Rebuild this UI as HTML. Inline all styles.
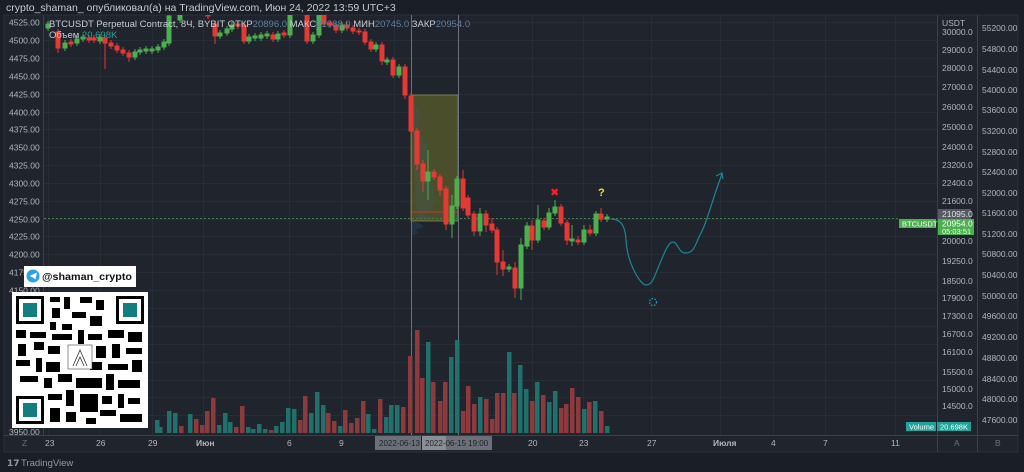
<!DOCTYPE html>
<html><head><meta charset="utf-8"><style>
html,body{margin:0;padding:0;background:#1a1e26;width:1024px;height:472px;overflow:hidden}
svg{display:block}
text{font-family:"Liberation Sans","DejaVu Sans",sans-serif}
</style></head><body>
<svg width="1024" height="472" viewBox="0 0 1024 472" xmlns="http://www.w3.org/2000/svg">
<rect width="1024" height="472" fill="#1a1e26"/>
<text x="6" y="11" font-size="10.5" fill="#c8cbd2">crypto_shaman_ опубликовал(а) на TradingView.com, Июн 24, 2022 13:59 UTC+3</text>
<rect x="4" y="15" width="1014" height="437" fill="#1f242d" stroke="#2c313b"/>
<g stroke="#272d37" stroke-width="1">
<path d="M43 22.5H937M43 40.5H937M43 58.5H937M43 76.5H937M43 94.5H937M43 112.5H937M43 129.5H937M43 147.5H937M43 165.5H937M43 183.5H937M43 201.5H937M43 219.5H937M43 236.5H937M43 254.5H937M43 272.5H937M43 290.5H937M43 308.5H937M43 326.5H937M43 344.5H937M43 362.5H937M43 380.5H937M43 397.5H937M43 415.5H937"/>
<path d="M48.5 15V435M100.5 15V435M152.5 15V435M203.5 15V435M289.5 15V435M341.5 15V435M394.5 15V435M532.5 15V435M583.5 15V435M651.5 15V435M720.5 15V435M773.5 15V435M825.5 15V435M895.5 15V435"/>
</g>
<line x1="43.5" y1="15" x2="43.5" y2="435" stroke="#3a404b"/>
<line x1="937.5" y1="15" x2="937.5" y2="452" stroke="#3a404b"/>
<line x1="977.5" y1="15" x2="977.5" y2="452" stroke="#3a404b"/>
<line x1="4" y1="435.5" x2="1018" y2="435.5" stroke="#3a404b"/>
<g font-size="8.5" fill="#b2b5be">
<text x="9" y="25.5">4525.00</text><text x="9" y="43.5">4500.00</text><text x="9" y="61.5">4475.00</text><text x="9" y="79.5">4450.00</text><text x="9" y="97.5">4425.00</text><text x="9" y="115.5">4400.00</text><text x="9" y="132.5">4375.00</text><text x="9" y="150.5">4350.00</text><text x="9" y="168.5">4325.00</text><text x="9" y="186.5">4300.00</text><text x="9" y="204.5">4275.00</text><text x="9" y="222.5">4250.00</text><text x="9" y="239.5">4225.00</text><text x="9" y="257.5">4200.00</text><text x="9" y="275.5">4175.00</text><text x="9" y="293.5">4150.00</text><text x="9" y="435">3950.00</text>
</g>
<g clip-path="url(#cp)">
<defs><clipPath id="cp"><rect x="44" y="15" width="893" height="420"/></clipPath></defs>
<rect x="411" y="95" width="47" height="126" fill="#5b5c2a" fill-opacity="0.75" stroke="#8a8a4a" stroke-width="0.8"/>
<path d="M411 100 q14 10 6 30 q18 20 4 40 q24 20 6 45 q16 5 -10 5z" fill="#3a6070" opacity="0.25"/>
<path d="M411 221 q22 5 4 9 q8 3 -4 6z" fill="#2a5070" opacity="0.35"/>
<line x1="411" y1="212" x2="458" y2="212" stroke="#c0392b"/>
<line x1="411.5" y1="15" x2="411.5" y2="435" stroke="#6b707a"/>
<line x1="458.5" y1="15" x2="458.5" y2="435" stroke="#6b707a"/>
<line x1="44" y1="218.5" x2="900" y2="218.5" stroke="#3f7d4a" stroke-dasharray="2 2"/>
<g fill="#8b3b3d">
<rect x="408" y="356" width="4.5" height="77"/><rect x="415" y="330" width="4.5" height="103"/><rect x="420" y="378" width="4.5" height="55"/><rect x="431" y="382" width="4.5" height="51"/><rect x="438" y="401" width="4.5" height="32"/><rect x="443" y="382" width="4.5" height="51"/><rect x="461" y="411" width="4.5" height="22"/><rect x="466" y="386" width="4.5" height="47"/><rect x="472" y="404" width="4.5" height="29"/><rect x="484" y="399" width="4.5" height="34"/><rect x="490" y="419" width="4.5" height="14"/><rect x="495" y="393" width="4.5" height="40"/><rect x="501" y="393" width="4.5" height="40"/><rect x="512" y="393" width="4.5" height="40"/><rect x="530" y="401" width="4.5" height="32"/><rect x="541" y="395" width="4.5" height="38"/><rect x="559" y="408" width="4.5" height="25"/><rect x="564" y="404" width="4.5" height="29"/><rect x="570" y="388" width="4.5" height="45"/><rect x="576" y="397" width="4.5" height="36"/><rect x="587" y="402" width="4.5" height="31"/><rect x="599" y="411" width="4.5" height="22"/>
<rect x="179" y="426" width="4.5" height="7"/><rect x="194" y="419" width="4.5" height="14"/><rect x="200" y="425" width="4.5" height="8"/><rect x="205" y="411" width="4.5" height="22"/><rect x="211" y="398" width="4.5" height="35"/><rect x="234" y="427" width="4.5" height="6"/><rect x="240" y="406" width="4.5" height="27"/><rect x="269" y="430" width="4.5" height="3"/><rect x="298" y="420" width="4.5" height="13"/><rect x="303" y="396" width="4.5" height="37"/><rect x="326" y="413" width="4.5" height="20"/><rect x="332" y="421" width="4.5" height="12"/><rect x="343" y="410" width="4.5" height="23"/><rect x="349" y="423" width="4.5" height="10"/><rect x="355" y="418" width="4.5" height="15"/><rect x="361" y="401" width="4.5" height="32"/><rect x="378" y="399" width="4.5" height="34"/><rect x="401" y="407" width="4.5" height="26"/>
</g>
<g fill="#22706b">
<rect x="426" y="342" width="4.5" height="91"/><rect x="449" y="357" width="4.5" height="76"/><rect x="455" y="340" width="4.5" height="93"/><rect x="478" y="397" width="4.5" height="36"/><rect x="507" y="352" width="4.5" height="81"/><rect x="518" y="365" width="4.5" height="68"/><rect x="524" y="389" width="4.5" height="44"/><rect x="535" y="382" width="4.5" height="51"/><rect x="547" y="402" width="4.5" height="31"/><rect x="553" y="391" width="4.5" height="42"/><rect x="582" y="409" width="4.5" height="24"/><rect x="593" y="401" width="4.5" height="32"/><rect x="605" y="426" width="4.5" height="7"/>
<rect x="155" y="420" width="4.5" height="13"/><rect x="158" y="427" width="4.5" height="6"/><rect x="167" y="411" width="4.5" height="22"/><rect x="173" y="413" width="4.5" height="20"/><rect x="188" y="414" width="4.5" height="19"/><rect x="217" y="425" width="4.5" height="8"/><rect x="223" y="413" width="4.5" height="20"/><rect x="228" y="422" width="4.5" height="11"/><rect x="246" y="427" width="4.5" height="6"/><rect x="251" y="429" width="4.5" height="4"/><rect x="257" y="424" width="4.5" height="9"/><rect x="263" y="429" width="4.5" height="4"/><rect x="274" y="426" width="4.5" height="7"/><rect x="280" y="422" width="4.5" height="11"/><rect x="286" y="408" width="4.5" height="25"/><rect x="292" y="409" width="4.5" height="24"/><rect x="309" y="413" width="4.5" height="20"/><rect x="315" y="392" width="4.5" height="41"/><rect x="321" y="405" width="4.5" height="28"/><rect x="338" y="426" width="4.5" height="7"/><rect x="366" y="414" width="4.5" height="19"/><rect x="372" y="429" width="4.5" height="4"/><rect x="384" y="417" width="4.5" height="16"/><rect x="389" y="405" width="4.5" height="28"/><rect x="395" y="405" width="4.5" height="28"/>
</g>
<g stroke="#4caf50" fill="#4caf50">
<path d="M48 21V31M65 40V51M77 36V46M83 34V42M100 34V44M135 49V60M140 47V55M146 46V54M152 46V54M158 44V53M164 39V50M169 13V46M180 2V23M220 30V39M227 26V36M232 22V32M249 34V44M255 33V41M261 32V41M267 31V39M278 31V42M290 12V38M313 32V44M319 12V38M342 22V33M376 42V52M387 57V65M399 64V78M428 150V200M452 195V238M457 176V209M480 208V236M509 264V272M521 238V300M527 222V249M538 205V243M549 208V230M555 200V216M572 225V246M584 225V245M596 211V236M607 214V222" fill="none" stroke-width="1"/>
<rect x="46" y="24" width="4" height="4"/><rect x="63" y="43" width="4" height="5"/><rect x="75" y="39" width="4" height="4"/><rect x="81" y="37" width="4" height="2"/><rect x="98" y="37" width="4" height="4"/><rect x="133" y="52" width="4" height="5"/><rect x="138" y="50" width="4" height="2"/><rect x="144" y="49" width="4" height="2"/><rect x="150" y="49" width="4" height="2"/><rect x="156" y="47" width="4" height="3"/><rect x="162" y="42" width="4" height="5"/><rect x="167" y="16" width="4" height="27"/><rect x="178" y="5" width="4" height="15"/><rect x="218" y="33" width="4" height="3"/><rect x="225" y="29" width="4" height="4"/><rect x="230" y="25" width="4" height="4"/><rect x="247" y="37" width="4" height="4"/><rect x="253" y="36" width="4" height="2"/><rect x="259" y="35" width="4" height="3"/><rect x="265" y="34" width="4" height="2"/><rect x="276" y="34" width="4" height="5"/><rect x="288" y="15" width="4" height="20"/><rect x="311" y="35" width="4" height="6"/><rect x="317" y="15" width="4" height="20"/><rect x="340" y="25" width="4" height="5"/><rect x="374" y="45" width="4" height="4"/><rect x="385" y="60" width="4" height="2"/><rect x="397" y="67" width="4" height="8"/><rect x="426" y="172" width="4" height="9"/><rect x="450" y="206" width="4" height="18"/><rect x="455" y="179" width="4" height="27"/><rect x="478" y="214" width="4" height="17"/><rect x="507" y="267" width="4" height="2"/><rect x="519" y="245" width="4" height="43"/><rect x="525" y="226" width="4" height="20"/><rect x="536" y="220" width="4" height="20"/><rect x="547" y="213" width="4" height="14"/><rect x="553" y="207" width="4" height="6"/><rect x="570" y="239" width="4" height="2"/><rect x="582" y="230" width="4" height="12"/><rect x="594" y="214" width="4" height="19"/><rect x="605" y="217" width="4" height="2"/>
</g>
<g stroke="#e53935" fill="#e53935">
<path d="M58 29V53M71 39V47M89 35V43M94 35V43M105 35V69M111 40V49M117 43V53M123 47V56M129 50V62M208 7V19M215 21V44M238 21V29M244 22V44M273 32V42M284 30V38M307 12V44M324 12V27M330 20V28M336 22V33M347 22V31M353 25V34M359 28V35M365 29V45M371 39V52M382 42V65M393 57V78M405 64V99M411 93V134M417 128V170M423 160V192M434 169V180M440 174V196M446 186V230M463 170V211M468 195V218M474 211V236M486 210V232M492 218V233M497 227V275M503 250V276M515 262V298M532 220V250M544 218V230M561 204V226M567 220V245M578 236V245M590 225V236M601 208V222" fill="none" stroke-width="1"/>
<rect x="56" y="32" width="4" height="16"/><rect x="69" y="42" width="4" height="2"/><rect x="87" y="38" width="4" height="2"/><rect x="92" y="38" width="4" height="2"/><rect x="103" y="38" width="4" height="5"/><rect x="109" y="43" width="4" height="3"/><rect x="115" y="46" width="4" height="4"/><rect x="121" y="50" width="4" height="3"/><rect x="127" y="53" width="4" height="4"/><rect x="206" y="10" width="4" height="6"/><rect x="213" y="24" width="4" height="12"/><rect x="236" y="24" width="4" height="2"/><rect x="242" y="25" width="4" height="16"/><rect x="271" y="35" width="4" height="4"/><rect x="282" y="33" width="4" height="2"/><rect x="305" y="15" width="4" height="26"/><rect x="322" y="15" width="4" height="9"/><rect x="328" y="23" width="4" height="2"/><rect x="334" y="25" width="4" height="5"/><rect x="345" y="25" width="4" height="3"/><rect x="351" y="28" width="4" height="3"/><rect x="357" y="31" width="4" height="1"/><rect x="363" y="32" width="4" height="10"/><rect x="369" y="42" width="4" height="7"/><rect x="380" y="45" width="4" height="16"/><rect x="391" y="60" width="4" height="15"/><rect x="403" y="67" width="4" height="28"/><rect x="409" y="96" width="4" height="35"/><rect x="415" y="131" width="4" height="33"/><rect x="421" y="164" width="4" height="17"/><rect x="432" y="172" width="4" height="5"/><rect x="438" y="177" width="4" height="13"/><rect x="444" y="189" width="4" height="35"/><rect x="461" y="179" width="4" height="29"/><rect x="466" y="198" width="4" height="17"/><rect x="472" y="214" width="4" height="17"/><rect x="484" y="214" width="4" height="11"/><rect x="490" y="224" width="4" height="6"/><rect x="495" y="230" width="4" height="32"/><rect x="501" y="262" width="4" height="7"/><rect x="513" y="268" width="4" height="20"/><rect x="530" y="226" width="4" height="14"/><rect x="542" y="221" width="4" height="6"/><rect x="559" y="207" width="4" height="16"/><rect x="565" y="223" width="4" height="17"/><rect x="576" y="240" width="4" height="2"/><rect x="588" y="230" width="4" height="3"/><rect x="599" y="214" width="4" height="5"/>
</g>
<path d="M611 219 C620 219 625 224 626 240 C627 262 640 285 646 285 C652 285 654 278 658 268 C664 254 668 242 673 242 C678 242 678 253 686 253 C694 253 695 245 700 235 C708 220 712 200 722 174" fill="none" stroke="#1f8596" stroke-width="1.2"/>
<path d="M716 176 L722 173 L723 179" fill="none" stroke="#1f8596" stroke-width="1.2"/>
<circle cx="653" cy="302" r="3.5" fill="none" stroke="#20a8c0" stroke-width="1.2" stroke-dasharray="1.5 1.5"/>
<text x="550" y="196" font-size="11" font-weight="bold" fill="#ff1f1f">✖</text>
<text x="598" y="196" font-size="11" font-weight="bold" fill="#f0e030">?</text>
</g>
<text x="49" y="27" font-size="9.5" fill="#c8cbd2">BTCUSDT Perpetual Contract, 8Ч, BYBIT  ОТКР<tspan fill="#5d7fa0">20896.0</tspan>  МАКС<tspan fill="#5d7fa0">21088.0</tspan>  МИН<tspan fill="#5d7fa0">20745.0</tspan>  ЗАКР<tspan fill="#5d7fa0">20954.0</tspan></text>
<text x="49" y="38" font-size="9.5" fill="#c8cbd2">Объем  <tspan fill="#22a39a">20.698K</tspan></text>
<g font-size="8.5" fill="#b2b5be">
<text x="942" y="26">USDT</text>
<text x="942" y="35">30000.0</text><text x="942" y="53">29000.0</text><text x="942" y="71">28000.0</text><text x="942" y="90">27000.0</text><text x="942" y="110">26000.0</text><text x="942" y="130">25000.0</text><text x="942" y="150">24000.0</text><text x="942" y="168">23200.0</text><text x="942" y="186">22400.0</text><text x="942" y="204">21600.0</text><text x="942" y="244">20000.0</text><text x="942" y="264">19250.0</text><text x="942" y="284">18500.0</text><text x="942" y="301">17900.0</text><text x="942" y="319">17300.0</text><text x="942" y="337">16700.0</text><text x="942" y="355">16100.0</text><text x="942" y="375">15500.0</text><text x="942" y="392">15000.0</text><text x="942" y="409">14500.0</text>
</g>
<rect x="938" y="209" width="33" height="10" fill="#555a63"/>
<text x="942" y="217" font-size="8.5" fill="#e0e0e0">21095.0</text>
<rect x="938" y="219" width="36" height="16" fill="#4caf50"/>
<text x="942" y="226.5" font-size="8.5" fill="#fff">20954.0</text>
<text x="942" y="234" font-size="7.5" fill="#e8ffe8">05:03:51</text>
<rect x="899" y="219" width="37" height="9" fill="#4caf50"/>
<text x="902" y="226.5" font-size="7.5" fill="#fff">BTCUSDT</text>
<rect x="906" y="422" width="30" height="9" fill="#22a39a"/>
<text x="909" y="429.5" font-size="7.5" fill="#fff">Volume</text>
<rect x="937" y="422" width="34" height="9" fill="#22a39a"/>
<text x="940" y="429.5" font-size="7.5" fill="#fff">20.698K</text>
<g font-size="8.5" fill="#b2b5be">
<text x="982" y="31">55200.00</text><text x="982" y="52">54800.00</text><text x="982" y="73">54400.00</text><text x="982" y="93">54000.00</text><text x="982" y="113">53600.00</text><text x="982" y="134">53200.00</text><text x="982" y="155">52800.00</text><text x="982" y="175">52400.00</text><text x="982" y="196">52000.00</text><text x="982" y="216">51600.00</text><text x="982" y="237">51200.00</text><text x="982" y="257">50800.00</text><text x="982" y="278">50400.00</text><text x="982" y="299">50000.00</text><text x="982" y="319">49600.00</text><text x="982" y="340">49200.00</text><text x="982" y="361">48800.00</text><text x="982" y="382">48400.00</text><text x="982" y="402">48000.00</text><text x="982" y="423">47600.00</text>
</g>
<g font-size="8.5" fill="#b2b5be">
<text x="22" y="446" fill="#6b707a">Z</text>
<text x="45" y="446">23</text><text x="96" y="446">26</text><text x="148" y="446">29</text><text x="196" y="446" font-weight="bold">Июн</text><text x="287" y="446">6</text><text x="339" y="446">9</text><text x="528" y="446">20</text><text x="579" y="446">23</text><text x="647" y="446">27</text><text x="713" y="446" font-weight="bold">Июля</text><text x="771" y="446">4</text><text x="823" y="446">7</text><text x="891" y="446">11</text>
<text x="954" y="446" fill="#6b707a">A</text><text x="995" y="446" fill="#6b707a">B</text>
</g>
<rect x="375" y="436" width="46" height="14" fill="#6b6f77"/>
<text x="379" y="446" font-size="8" fill="#1e2128">2022-06-13</text>
<rect x="422" y="436" width="70" height="14" fill="#6b6f77"/>
<rect x="422" y="436" width="24" height="14" fill="#8a8e96"/>
<text x="425" y="446" font-size="8" fill="#1e2128">2022-06-15   19:00</text>
<rect x="24" y="266" width="112" height="21" fill="#fff"/>
<circle cx="33" cy="276" r="6.5" fill="#2aa3e0"/>
<path d="M29.5 276 L37 272.5 L35.5 279.5 L33 277.5Z" fill="#fff"/>
<text x="42" y="280" font-size="10.5" font-weight="bold" fill="#111" textLength="90" lengthAdjust="spacingAndGlyphs">@shaman_crypto</text>
<rect x="12" y="292" width="136" height="136" fill="#fff"/>
<g fill="#000">
<rect x="16" y="296" width="28" height="28"/><rect x="116" y="296" width="28" height="28"/><rect x="16" y="396" width="28" height="28"/>
</g>
<g fill="#fff"><rect x="19" y="299" width="22" height="22"/><rect x="119" y="299" width="22" height="22"/><rect x="19" y="399" width="22" height="22"/></g>
<g fill="#137e7e"><rect x="23" y="303" width="14" height="14"/><rect x="123" y="303" width="14" height="14"/><rect x="23" y="403" width="14" height="14"/></g>
<g fill="#000">
<rect x="50" y="297" width="10" height="5"/><rect x="64" y="297" width="6" height="12"/><rect x="80" y="297" width="12" height="6"/><rect x="96" y="300" width="8" height="10"/><rect x="52" y="308" width="8" height="10"/><rect x="72" y="312" width="14" height="6"/><rect x="90" y="316" width="12" height="10"/><rect x="50" y="322" width="6" height="8"/><rect x="62" y="324" width="10" height="6"/>
<rect x="16" y="330" width="10" height="8"/><rect x="30" y="332" width="16" height="6"/><rect x="52" y="334" width="20" height="6"/><rect x="78" y="330" width="6" height="14"/><rect x="88" y="334" width="14" height="6"/><rect x="108" y="330" width="16" height="8"/><rect x="128" y="332" width="14" height="10"/>
<rect x="18" y="344" width="8" height="12"/><rect x="34" y="342" width="10" height="8"/><rect x="48" y="346" width="12" height="8"/><rect x="96" y="346" width="10" height="12"/><rect x="112" y="344" width="8" height="14"/><rect x="126" y="348" width="16" height="6"/>
<rect x="16" y="360" width="14" height="6"/><rect x="36" y="358" width="6" height="14"/><rect x="46" y="362" width="14" height="10"/><rect x="90" y="362" width="12" height="8"/><rect x="108" y="364" width="20" height="6"/><rect x="132" y="360" width="10" height="12"/>
<rect x="20" y="376" width="18" height="6"/><rect x="44" y="378" width="8" height="10"/><rect x="58" y="374" width="14" height="8"/><rect x="76" y="378" width="26" height="10"/><rect x="106" y="374" width="8" height="16"/><rect x="118" y="380" width="22" height="8"/>
<rect x="48" y="394" width="14" height="6"/><rect x="66" y="390" width="8" height="16"/><rect x="80" y="394" width="18" height="18"/><rect x="102" y="396" width="10" height="8"/><rect x="118" y="394" width="6" height="14"/><rect x="128" y="398" width="12" height="6"/>
<rect x="50" y="408" width="10" height="14"/><rect x="66" y="412" width="10" height="10"/><rect x="100" y="410" width="16" height="6"/><rect x="120" y="414" width="22" height="8"/><rect x="86" y="418" width="10" height="6"/>
</g>
<rect x="68" y="345" width="24" height="24" fill="#fff" stroke="#444" stroke-width="0.6"/>
<path d="M73 366 L80 350 L87 366 M76 366 L80 357 L84 366" fill="none" stroke="#333" stroke-width="0.8"/>
<text x="7" y="466" font-size="9" font-weight="bold" fill="#9598a1">𝟭𝟳</text>
<text x="21" y="466" font-size="9.5" fill="#9598a1">TradingView</text>
</svg>
</body></html>
